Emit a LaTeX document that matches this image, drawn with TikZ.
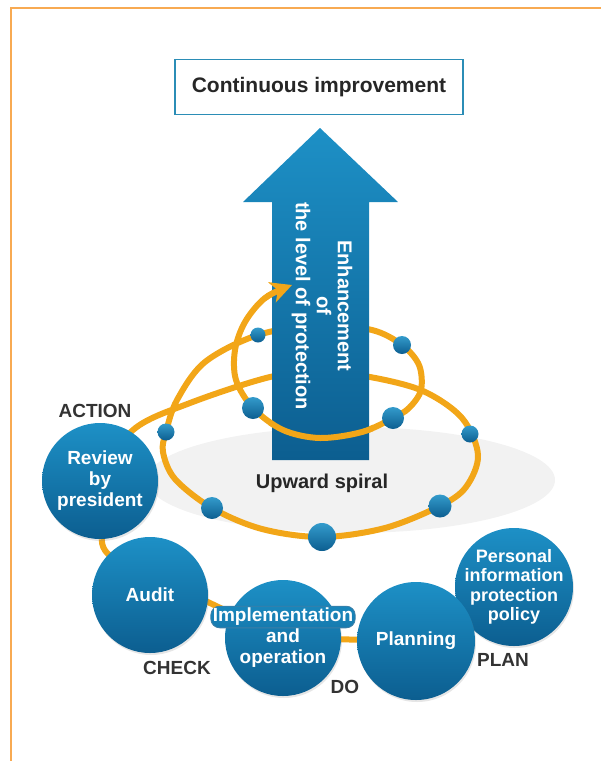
\documentclass[tikz,border=0pt]{standalone}
\usepackage{fontspec}
\setmainfont{Liberation Sans}
\usepackage{tikz}
\usetikzlibrary{arrows.meta,positioning,shadows}
\definecolor{spiralorange}{HTML}{F2A618}
\definecolor{frameorange}{HTML}{F8AA52}
\definecolor{lightblue}{HTML}{1D90C6}
\definecolor{darkblue}{HTML}{0C5E90}
\definecolor{boxblue}{HTML}{2B8DB6}
\definecolor{inkgray}{HTML}{333333}
\pgfdeclarelayer{bg}
\pgfsetlayers{bg,main}
\newcommand*\upwardspiral{plot[smooth,tension=.55] coordinates {(review.center) (133,430) (190,403)
  (270,377) (320,372) (370,377) (423,391) (462,418) (478,455) (466,487) (440,506) (385,528)
  (322,537) (262,529) (212,508) (175,479) (163,452) (166,432) (177,400) (205,362) (258,335)
  (320,325) (372,330) (402,345) (419,365) (421,390) (409,408) (393,418) (362,432) (320,438)
  (283,430) (253,408) (236,380) (235,350) (245,322) (265,298) (292,285)}}

\begin{document}
\begin{tikzpicture}[x=1pt,y=-1pt,
    phase/.style={circle,minimum size=116pt,inner sep=0pt,
      top color=lightblue,bottom color=darkblue,
      drop shadow={opacity=.2,shadow xshift=1pt,shadow yshift=-2pt}},
    phasetext/.style={align=center,text=white,font=\bfseries\fontsize{19}{21}\selectfont},
    tag/.style={text=inkgray,font=\bfseries\fontsize{19}{21}\selectfont},
    spiral/.style={draw=spiralorange,line width=6pt},
    tip/.style={-{Stealth[length=21pt,width=21pt,inset=6pt]}},
    bead/.style={circle,inner sep=0pt,minimum size=#1,top color=lightblue!90!white,bottom color=darkblue}]
    \useasboundingbox (0,0) rectangle (601,761);
    \draw[frameorange,line width=1.5pt] (10,8) -- (601,8) (11,8) -- (11,761);

    \node[draw=boxblue,line width=1.5pt,minimum width=288pt,minimum height=55pt,
      text=black!85,font=\bfseries\fontsize{21}{24}\selectfont] (goal) at (319,87) {Continuous improvement};

    \node[phase] (review) at (100,481) {};
    \node[phase] (audit) at (150,595) {};
    \node[phase] (impl) at (283,638) {};
    \node[phase,minimum size=118pt] (policy) at (514,587) {};
    \node[phase,minimum size=118pt] (planning) at (416,641) {};

    \begin{pgfonlayer}{bg}
        \fill[black!5] (351,480) ellipse [x radius=204,y radius=53];
        \draw[spiral] (review) to[bend right=22] (audit) -- (impl) -- (planning);
        \draw[spiral,tip] \upwardspiral;
    \end{pgfonlayer}

    \node[phasetext] (reviewtext) at (review) {Review\\by\\president};
    \node[phasetext] (audittext) at (audit) {Audit};
    \node[phasetext,rounded corners=9pt,inner sep=2pt,draw=darkblue!80,line width=.8pt,
      top color=lightblue!80!darkblue,bottom color=lightblue!58!darkblue] (impltop) at (283,617) {Implementation};
    \node[phasetext] (impltext) [below=-3pt of impltop] {and\\operation};
    \node[phasetext] (planningtext) at (planning) {Planning};
    \node[phasetext,font=\bfseries\fontsize{18}{19.5}\selectfont] (policytext) at (policy) {Personal\\information\\protection\\policy};

    \shade[top color=lightblue,bottom color=darkblue] (272,460) -- (272,202) -- (243,202) -- (320,128)
        -- (398,202) -- (369,202) -- (369,460) -- cycle;
    \node[rotate=-90,align=center,text=white,font=\bfseries\fontsize{20}{21}\selectfont] (gain) at (322,306)
        {Enhancement\\of\\the level of protection};

    \begin{scope}
        \clip (268,420) rectangle (373,447) (266,270) rectangle (304,307);
        \draw[spiral,tip] \upwardspiral;
    \end{scope}

    \foreach \pos/\sz [count=\i] in {(258,335)/15,(402,345)/18,(253,408)/22,(393,418)/22,(166,432)/17,
        (470,434)/17,(212,508)/22,(322,537)/28,(440,506)/23}
        \node[bead=\sz] (bead\i) at \pos {};

    \node[text=black!85,font=\bfseries\fontsize{20}{22}\selectfont] (upward) at (322,483) {Upward spiral};
    \node[tag] (action) [above=2pt of review,xshift=-5pt] {ACTION};
    \node[tag] (check) [below=4pt of audit,xshift=27pt] {CHECK};
    \node[tag] (dolabel) [below right=-2pt and 3pt of impl] {DO};
    \node[tag] (plan) [below=4pt of policy,xshift=-11pt] {PLAN};
\end{tikzpicture}
\end{document}
